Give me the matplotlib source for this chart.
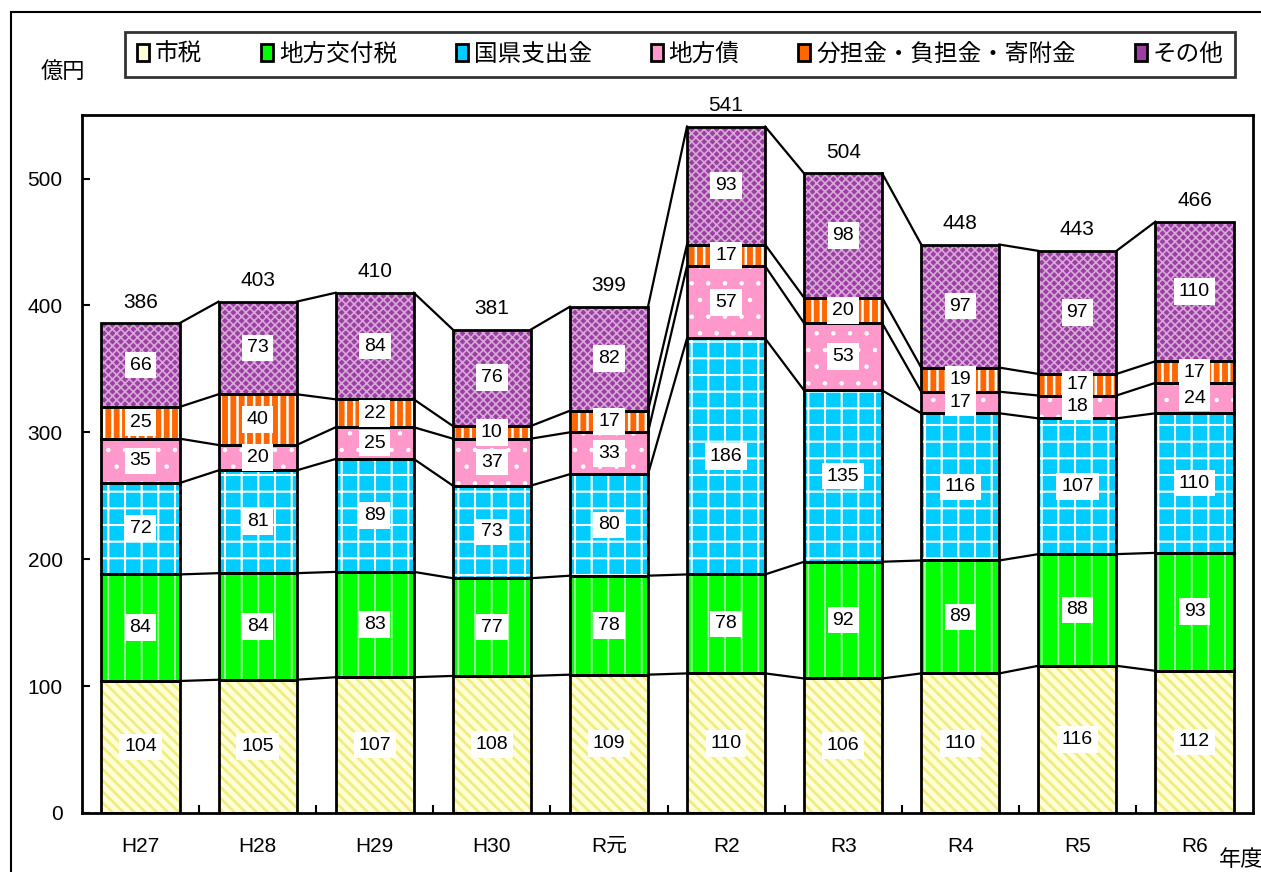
import numpy as np
import matplotlib as mpl
import matplotlib.pyplot as plt
from matplotlib.patches import Rectangle, Patch

plt.rcParams['font.family'] = ['Liberation Sans', 'Noto Sans CJK JP', 'DejaVu Sans']

years = ['H27', 'H28', 'H29', 'H30', 'R元', 'R2', 'R3', 'R4', 'R5', 'R6']
names = ['市税', '地方交付税', '国県支出金', '地方債', '分担金・負担金・寄附金', 'その他']
shizei = [104, 105, 107, 108, 109, 110, 106, 110, 116, 112]
koufuzei = [84, 84, 83, 77, 78, 78, 92, 89, 88, 93]
shishutsu = [72, 81, 89, 73, 80, 186, 135, 116, 107, 110]
chihousai = [35, 20, 25, 37, 33, 57, 53, 17, 18, 24]
buntan = [25, 40, 22, 10, 17, 17, 20, 19, 17, 17]
sonota = [66, 73, 84, 76, 82, 93, 98, 97, 97, 110]
totals = [386, 403, 410, 381, 399, 541, 504, 448, 443, 466]

series = [shizei, koufuzei, shishutsu, chihousai, buntan, sonota]
faces = ['#FFFFD8', '#00FF00', '#00CCFF', '#FF99CC', '#FF6600', '#9C3FA4']
hatches = ['\\\\\\', '|', '+', '.', '||', 'xxxx']
hcols = ['#F2EC80', '#A8FFA8', '#FFFFFF', '#FFFFFF', '#FFFFFF', '#D8A8D8']
hlws = [2.0, 1.3, 1.5, 0.8, 1.8, 1.2]

fig = plt.figure(figsize=(12.61, 8.72), dpi=100)
ax = fig.add_axes([0.065, 0.0677, 0.9287, 0.8003])

x = np.arange(len(years))
w = 0.667
bottom = np.zeros(len(years))
for vals, fc, h, hc, hl in zip(series, faces, hatches, hcols, hlws):
    vals = np.array(vals, dtype=float)
    with mpl.rc_context({'hatch.linewidth': hl}):
        ax.bar(x, vals, w, bottom=bottom, color=fc, hatch=h, edgecolor=hc, linewidth=0, zorder=2)
    ax.bar(x, vals, w, bottom=bottom, fill=False, edgecolor='black', linewidth=2, zorder=3)
    for i in range(len(years)):
        ax.text(x[i], bottom[i] + vals[i] / 2, str(int(vals[i])), ha='center', va='center',
                fontsize=14, zorder=5,
                bbox=dict(boxstyle='square,pad=0.25', fc='white', ec='none'))
    bottom = bottom + vals
    for i in range(len(years) - 1):
        ax.plot([x[i] + w / 2, x[i + 1] - w / 2], [bottom[i], bottom[i + 1]],
                color='black', lw=1.6, zorder=1)

for i, t in enumerate(totals):
    ax.text(x[i], bottom[i] + 9, str(t), ha='center', va='bottom', fontsize=15)

ax.set_xlim(-0.5, len(years) - 0.5)
ax.set_ylim(0, 550)
ax.set_yticks([0, 100, 200, 300, 400, 500])
ax.set_xticks(x)
ax.set_xticklabels(years)
ax.set_xticks(np.arange(0.5, len(years) - 1, 1), minor=True)
ax.tick_params(axis='x', which='major', length=0, pad=17, labelsize=15)
ax.tick_params(axis='x', which='minor', direction='in', length=6, width=1.5)
ax.tick_params(axis='y', direction='in', length=6, width=1.5, labelsize=15, pad=14)
for s in ax.spines.values():
    s.set_linewidth(2)

fig.add_artist(Rectangle((11 / 1261, -0.1), 1.2, 1 - 12 / 872 + 0.1, transform=fig.transFigure,
                         fill=False, edgecolor='black', linewidth=1.5))

handles = [Patch(facecolor=fc, edgecolor='black', linewidth=2) for fc in faces]
leg = fig.legend(handles, names, loc='center', bbox_to_anchor=(0.5395, 0.9375), ncol=6,
                 fontsize=17, frameon=True, fancybox=False, edgecolor='black',
                 handlelength=0.5, handleheight=0.75, handletextpad=0.25, columnspacing=2.5,
                 borderpad=0.5)
leg.get_frame().set_linewidth(2)

fig.text(63 / 1261, 1 - 72 / 872, '億円', ha='center', va='center', fontsize=16)
fig.text(1241 / 1261, 1 - 860 / 872, '年度', ha='center', va='center', fontsize=16)

fig.savefig('out.png', dpi=100)
